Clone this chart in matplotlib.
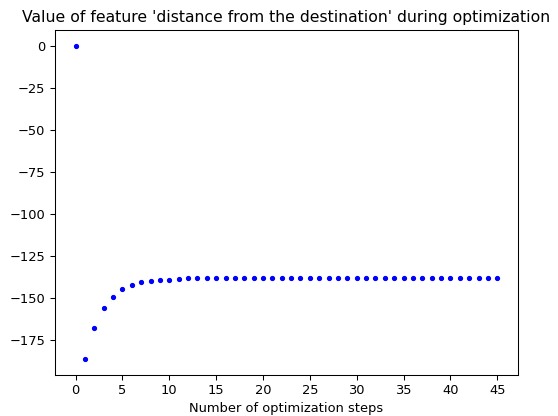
import numpy as np
import matplotlib
matplotlib.use("Agg")
import matplotlib.pyplot as plt

# values
steps = list(range(46))
values = [0.0, -186.4, -167.7, -156.2, -149.5, -144.9, -142.2, -140.4,
          -139.8, -139.4, -139.0, -138.8] + [-138.2] * 34

DPI = 94
fig, ax = plt.subplots(figsize=(558 / DPI, 416 / DPI), dpi=DPI)
fig.subplots_adjust(left=0.0977, right=0.9289, top=0.9279, bottom=0.0986)

ax.plot(steps, values, "b.")
ax.set_title("Value of feature 'distance from the destination' during optimization")
ax.set_xlabel("Number of optimization steps")
ax.set_xticks(np.arange(0, 46, 5))

fig.savefig("out.png", dpi=DPI)
